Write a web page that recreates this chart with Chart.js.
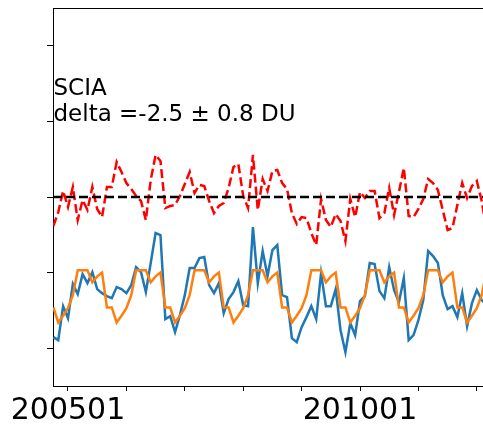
<!DOCTYPE html>
<html>
<head>
<meta charset="utf-8">
<script src="https://cdn.jsdelivr.net/npm/chart.js@4"></script>
<style>
  html, body { margin: 0; padding: 0; background: #fff; }
  #wrap { width: 483px; height: 425px; position: relative; }
</style>
</head>
<body>
<div id="wrap"><canvas id="c" width="483" height="425"></canvas></div>
<script>
// ---- data (monthly, Oct 2004 .. Mar 2012) ----
const firstMonth = '200410';
const monthCount = 90;

// SCIA observations (blue)
const sciaValues = [
  -18.54, -18.94, -14.44,
  -16.03, -11.52, -12.85, -10.20, -11.39,  -9.93, -12.19, -12.72, -13.11, -13.38, -11.92, -12.19,
  -12.72, -11.66,  -9.27,  -9.93, -12.58,  -8.74,  -4.77,  -5.03, -16.16, -15.76, -17.88, -15.63,
  -12.98,  -9.40,  -9.40,  -8.08,  -7.95, -11.66, -12.72, -11.39, -15.36, -13.51, -12.58, -11.13,
  -14.30, -14.44,  -3.97, -11.39,  -7.15, -10.46,  -7.02,  -6.36, -12.98, -13.25, -18.68, -19.21,
  -17.22, -15.89, -14.44, -16.16, -10.07, -14.44, -14.44, -12.19, -17.62, -20.53, -16.69, -18.28,
  -13.77, -13.11,  -8.74,  -8.87, -12.45, -13.38,  -9.27, -12.32, -13.91, -10.73, -18.94, -18.28,
  -16.29, -13.64,  -7.15,  -7.81,  -8.74, -12.98, -14.83, -14.44, -15.89, -12.72, -17.09, -14.04,
  -12.32, -13.64, -14.30
];

// reference / model seasonal series (orange)
const modelValues = [
  -14.6, -16.6, -15.7,
  -14.7, -13.0, -9.7, -9.7, -9.7, -11.3, -10.5, -10.0, -14.6, -14.6, -16.6, -15.7,
  -14.7, -13.0, -9.7, -9.7, -9.7, -11.3, -10.5, -10.0, -14.6, -14.6, -16.6, -15.7,
  -14.7, -13.0, -9.7, -9.7, -9.7, -11.3, -10.5, -10.0, -14.6, -14.6, -16.6, -15.7,
  -14.7, -13.0, -9.7, -9.7, -9.7, -11.3, -10.5, -10.0, -14.6, -14.6, -16.6, -15.7,
  -14.7, -13.0, -9.7, -9.7, -9.7, -11.3, -10.5, -10.0, -14.6, -14.6, -16.6, -15.7,
  -14.7, -13.0, -9.7, -9.7, -9.7, -11.3, -10.5, -10.0, -14.6, -14.6, -16.6, -15.7,
  -14.7, -13.0, -9.7, -9.7, -9.7, -11.3, -10.5, -10.0, -14.6, -14.6, -16.6, -15.7,
  -14.7, -13.0, -9.7
];

// difference (red dashed)
const diffValues = [
  -3.84, -1.99,  0.80,
  -1.32,  1.32, -3.05, -0.40, -1.72,  1.32, -1.59, -2.65,  1.32,  1.32,  4.64,  3.31,
   1.85,  1.06,  0.13, -0.53, -3.05,  2.25,  5.56,  4.77, -1.46, -1.19, -1.06,  0.13,
   1.72,  3.31,  0.53,  1.59,  1.46, -0.53, -2.12, -1.19, -0.79,  1.19,  3.97,  4.37,
   0.13, -1.46,  5.56, -1.72,  2.38,  0.79,  3.44,  3.58,  1.85,  1.06, -2.12, -3.58,
  -2.65, -2.78, -4.77, -6.36, -0.26, -3.05, -3.97, -2.25, -3.18, -5.83, -0.26, -2.65,
   0.66, -0.13,  0.79,  0.79, -2.78, -2.12,  1.19, -2.38,  0.66,  3.84, -2.52, -2.65,
  -1.59, -0.26,  2.38,  1.85,  0.93, -1.72, -4.37, -4.11, -1.06,  1.85, -0.13,  1.46,
   2.12, -0.53, -4.37
];

const zeroLine = [0, 0];
const yearStarts = ['200501','200601','200701','200801','200901','201001','201101','201201'];
const labeledTicks = ['200501', '201001'];
const yTicks = [-20, -10, 0, 10, 20];
const annotation = ['SCIA', 'delta =-2.5 \u00b1 0.8 DU'];

// ---- helpers ----
function monthIndex(label) {
  const y = parseInt(label.slice(0, 4), 10), m = parseInt(label.slice(4, 6), 10);
  return (y - 2005) * 12 + (m - 1);
}
const months = [];
(function () {
  let y = parseInt(firstMonth.slice(0, 4), 10), m = parseInt(firstMonth.slice(4, 6), 10);
  for (let i = 0; i < monthCount; i++) {
    months.push(String(y) + String(m).padStart(2, '0'));
    m++; if (m > 12) { m = 1; y++; }
  }
})();
const xs = months.map(monthIndex);
const toPts = vals => vals.map((v, i) => ({ x: xs[i], y: v }));
const tickIdx = yearStarts.map(monthIndex);
const labelIdx = labeledTicks.map(monthIndex);

const X_MIN = -3.08, X_MAX = 85.27;

const framePlugin = {
  id: 'frame',
  afterDatasetsDraw(chart) {
    const { ctx, chartArea } = chart;
    ctx.save();
    ctx.strokeStyle = '#000';
    ctx.lineWidth = 1;
    ctx.beginPath();
    ctx.moveTo(chartArea.left, chartArea.top + 0.5);
    ctx.lineTo(chartArea.right, chartArea.top + 0.5);
    ctx.stroke();
    ctx.fillStyle = '#000';
    ctx.font = '23px "DejaVu Sans"';
    ctx.textBaseline = 'alphabetic';
    ctx.textAlign = 'left';
    ctx.fillText(annotation[0], chartArea.left + 0.5, 95);
    ctx.fillText(annotation[1], chartArea.left + 0.5, 121);
    ctx.restore();
  }
};

new Chart(document.getElementById('c'), {
  type: 'line',
  data: {
    datasets: [
      { label: 'zero', data: [{ x: X_MIN, y: zeroLine[0] }, { x: X_MAX, y: zeroLine[1] }],
        borderColor: '#000', borderWidth: 2.5, borderDash: [9, 4], pointRadius: 0, order: 0 },
      { label: 'diff', data: toPts(diffValues), borderColor: '#ff0000', borderWidth: 2.5,
        borderDash: [9, 4], pointRadius: 0, order: 1 },
      { label: 'model', data: toPts(modelValues), borderColor: '#ff7f0e', borderWidth: 2.5,
        pointRadius: 0, order: 2 },
      { label: 'SCIA', data: toPts(sciaValues), borderColor: '#1f77b4', borderWidth: 2.5,
        pointRadius: 0, order: 3 }
    ]
  },
  options: {
    responsive: false,
    animation: false,
    events: [],
    parsing: true,
    elements: { line: { tension: 0, borderCapStyle: 'butt', borderJoinStyle: 'miter' } },
    layout: { padding: { top: 8, left: 0, right: 0, bottom: 0 } },
    plugins: { legend: { display: false }, tooltip: { enabled: false }, title: { display: false } },
    scales: {
      x: {
        type: 'linear', min: X_MIN, max: X_MAX,
        afterBuildTicks: s => { s.ticks = tickIdx.map(v => ({ value: v })); },
        afterFit: s => { s.height = 39; },
        border: { display: true, color: '#000', width: 1 },
        grid: { drawOnChartArea: false, drawTicks: true, tickLength: 5, tickColor: '#000', tickWidth: 1 },
        ticks: {
          autoSkip: false, maxRotation: 0, minRotation: 0, padding: 2, color: '#000',
          font: { family: 'DejaVu Sans', size: 30 },
          callback: v => { const i = labelIdx.indexOf(v); return i >= 0 ? labeledTicks[i] : ''; }
        }
      },
      y: {
        type: 'linear', min: -25, max: 25,
        afterBuildTicks: s => { s.ticks = yTicks.map(v => ({ value: v })); },
        afterFit: s => { s.width = 53; },
        border: { display: true, color: '#000', width: 1 },
        grid: { drawOnChartArea: false, drawTicks: true, tickLength: 6, tickColor: '#000', tickWidth: 1 },
        ticks: { callback: () => '', padding: 0 }
      }
    }
  },
  plugins: [framePlugin]
});
</script>
</body>
</html>
